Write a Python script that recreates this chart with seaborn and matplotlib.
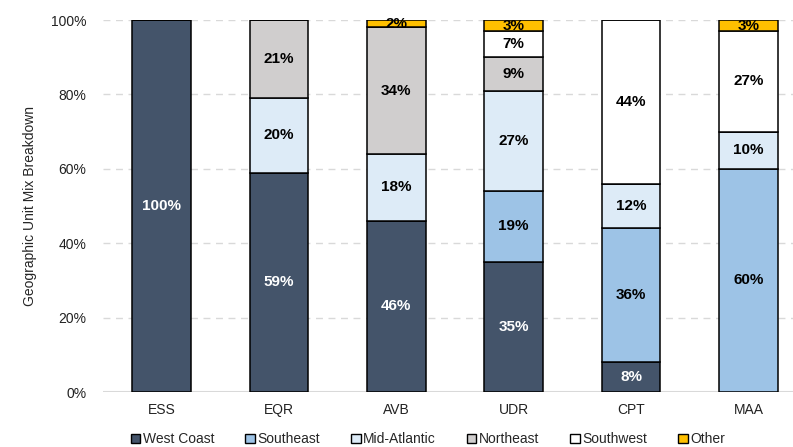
import numpy as np
import pandas as pd
import matplotlib
matplotlib.use("Agg")
import matplotlib.pyplot as plt
import seaborn as sns
from matplotlib.patches import Patch

companies = ["ESS", "EQR", "AVB", "UDR", "CPT", "MAA"]
regions = ["West Coast", "Southeast", "Mid-Atlantic", "Northeast", "Southwest", "Other"]
west_coast = [100, 59, 46, 35, 8, 0]
southeast = [0, 0, 0, 19, 36, 60]
mid_atlantic = [0, 20, 18, 27, 12, 10]
northeast = [0, 21, 34, 9, 0, 0]
southwest = [0, 0, 0, 7, 44, 27]
other = [0, 0, 2, 3, 0, 3]
colors = ["#44546A", "#9DC3E6", "#DDEBF7", "#D0CECE", "#FFFFFF", "#FFC000"]

series = [west_coast, southeast, mid_atlantic, northeast, southwest, other]

sns.set_style("white")
plt.rcParams["font.family"] = ["Liberation Sans", "DejaVu Sans"]

fig = plt.figure(figsize=(7.93, 4.47), dpi=100)
ax = fig.add_axes([103 / 793, 55 / 447, 1 - 103 / 793, 372 / 447])

bottom = np.zeros(len(companies))
for name, vals, col in zip(regions, series, colors):
    df = pd.DataFrame({"company": companies, "value": vals})
    sns.barplot(data=df, x="company", y="value", color=col, bottom=bottom,
                width=0.5, edgecolor="black", linewidth=1.1, ax=ax, zorder=3,
                saturation=1)
    for i, v in enumerate(vals):
        if v > 0:
            tc = "white" if name == "West Coast" else "black"
            ax.text(i, bottom[i] + v / 2, f"{v}%", ha="center", va="center",
                    fontsize=11, fontweight="bold", color=tc, zorder=4)
    bottom += np.array(vals)

ax.set_ylim(0, 100)
ax.set_xlim(-0.5, 5.38)
ax.set_yticks([0, 20, 40, 60, 80, 100])
ax.set_yticklabels([f"{t}%" for t in [0, 20, 40, 60, 80, 100]])
for t in [20, 40, 60, 80, 100]:
    ax.axhline(t, color="#D9D9D9", linestyle=(0, (5, 4)), linewidth=1, zorder=1)
ax.axhline(0, color="#D9D9D9", linewidth=1.5, zorder=1)
sns.despine(ax=ax, left=True, bottom=True)
ax.tick_params(axis="both", length=0, labelsize=10, colors="#222222", pad=8)
ax.tick_params(axis="y", pad=12)
ax.set_xlabel("")
ax.set_ylabel("Geographic Unit Mix Breakdown", fontsize=10, labelpad=10)

handles = [Patch(facecolor=c, edgecolor="black", linewidth=1, label=r)
           for r, c in zip(regions, colors)]
fig.legend(handles=handles, loc="lower center", bbox_to_anchor=(428 / 793, -0.014),
           ncol=6, frameon=False, fontsize=10, handlelength=0.7, handleheight=0.7,
           handletextpad=0.2, columnspacing=2.2, borderpad=0)

fig.savefig("out.png", dpi=100)
